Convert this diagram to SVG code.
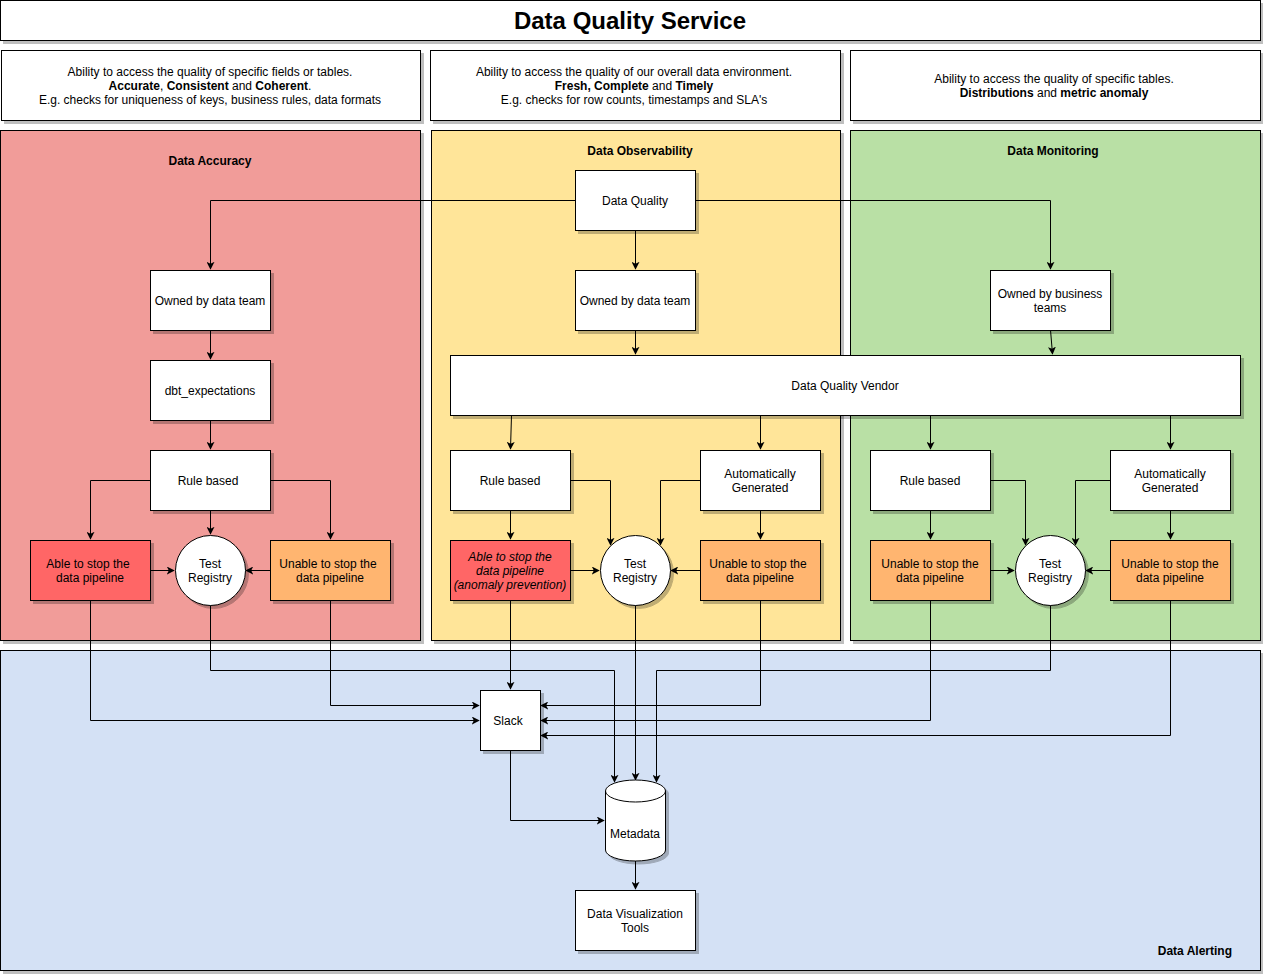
<svg xmlns="http://www.w3.org/2000/svg" width="1263" height="974" viewBox="0 0 1263 974">
<defs>
<filter id="sh" x="-5%" y="-5%" width="115%" height="115%">
<feDropShadow dx="3" dy="3" stdDeviation="0" flood-color="#000" flood-opacity="0.25"/>
</filter>
<marker id="ah" viewBox="0 0 10 10" refX="9" refY="5" markerWidth="8" markerHeight="8" markerUnits="userSpaceOnUse" orient="auto">
<path d="M0,0 L10,5 L0,10 L2.5,5 z" fill="#000"/>
</marker>
<style>
text{font-family:"Liberation Sans",Arial,Helvetica,sans-serif;font-size:12px;fill:#000;text-anchor:middle}
.b{font-weight:bold}
.box{stroke:#000;stroke-width:1;filter:url(#sh)}
.w{fill:#fff}
.red{fill:#FF6666}
.org{fill:#FFB570}
.c path,.c line,.c polyline{fill:none;stroke:#000;stroke-width:1;marker-end:url(#ah)}
</style>
</defs>
<rect width="1263" height="974" fill="#fff"/>

<g id="title">
<rect class="box w" x="0.5" y="0.5" width="1260" height="40"/>
<text class="b" x="630" y="29" style="font-size:24px">Data Quality Service</text>
</g>

<g id="desc-accuracy">
<rect class="box w" x="1.5" y="50.5" width="419" height="70"/>
<text x="210" y="76">Ability to access the quality of specific fields or tables.</text>
<text x="210" y="90"><tspan class="b">Accurate</tspan>, <tspan class="b">Consistent</tspan> and <tspan class="b">Coherent</tspan>.</text>
<text x="210" y="104">E.g. checks for uniqueness of keys, business rules, data formats</text>
</g>
<g id="desc-observability">
<rect class="box w" x="430.5" y="50.5" width="410" height="70"/>
<text x="634" y="76">Ability to access the quality of our overall data environment.</text>
<text x="634" y="90"><tspan class="b">Fresh, Complete</tspan> and <tspan class="b">Timely</tspan></text>
<text x="634" y="104">E.g. checks for row counts, timestamps and SLA's</text>
</g>
<g id="desc-monitoring">
<rect class="box w" x="850.5" y="50.5" width="410" height="70"/>
<text x="1054" y="83">Ability to access the quality of specific tables.</text>
<text x="1054" y="97"><tspan class="b">Distributions</tspan> and <tspan class="b">metric anomaly</tspan></text>
</g>

<g id="lane-accuracy">
<rect class="box" x="0.5" y="130.5" width="420" height="510" fill="#F19C99"/>
<text class="b" x="210" y="165">Data Accuracy</text>
</g>
<g id="lane-observability">
<rect class="box" x="431.5" y="130.5" width="409" height="510" fill="#FFE599"/>
<text class="b" x="640" y="155">Data Observability</text>
</g>
<g id="lane-monitoring">
<rect class="box" x="850.5" y="130.5" width="410" height="510" fill="#B9E0A5"/>
<text class="b" x="1053" y="155">Data Monitoring</text>
</g>
<g id="lane-alerting">
<rect class="box" x="0.5" y="650.5" width="1260" height="320" fill="#D4E1F5"/>
<text class="b" x="1232" y="955" style="text-anchor:end">Data Alerting</text>
</g>

<g id="connectors" class="c">
<polyline points="575,200.5 210.5,200.5 210.5,269"/>
<polyline points="695,200.5 1050.5,200.5 1050.5,269"/>
<line x1="635.5" y1="230" x2="635.5" y2="269"/>
<line x1="210.5" y1="330" x2="210.5" y2="359"/>
<line x1="210.5" y1="420" x2="210.5" y2="449"/>
<polyline points="150,480.5 90.5,480.5 90.5,539"/>
<polyline points="270,480.5 330.5,480.5 330.5,539"/>
<line x1="210.5" y1="510" x2="210.5" y2="534"/>
<line x1="150" y1="570.5" x2="174" y2="570.5"/>
<line x1="270" y1="570.5" x2="246" y2="570.5"/>
<line x1="635.5" y1="330" x2="635.5" y2="354"/>
<line x1="1050.5" y1="330" x2="1052.5" y2="354"/>
<line x1="511.5" y1="415" x2="510.5" y2="449"/>
<line x1="760.5" y1="415" x2="760.5" y2="449"/>
<line x1="930.5" y1="415" x2="930.5" y2="449"/>
<line x1="1170.5" y1="415" x2="1170.5" y2="449"/>
<polyline points="570,480.5 610.5,480.5 610.5,545"/>
<polyline points="700,480.5 660.5,480.5 660.5,545"/>
<line x1="510.5" y1="510" x2="510.5" y2="539"/>
<line x1="760.5" y1="510" x2="760.5" y2="539"/>
<line x1="570" y1="570.5" x2="599" y2="570.5"/>
<line x1="700" y1="570.5" x2="671" y2="570.5"/>
<polyline points="990,480.5 1025.5,480.5 1025.5,545"/>
<polyline points="1110,480.5 1075.5,480.5 1075.5,545"/>
<line x1="930.5" y1="510" x2="930.5" y2="539"/>
<line x1="1170.5" y1="510" x2="1170.5" y2="539"/>
<line x1="990" y1="570.5" x2="1014" y2="570.5"/>
<line x1="1110" y1="570.5" x2="1086" y2="570.5"/>
<polyline points="90.5,600 90.5,720.5 479,720.5"/>
<polyline points="330.5,600 330.5,705.5 479,705.5"/>
<polyline points="210.5,605 210.5,670.5 614.5,670.5 614.5,782"/>
<line x1="510.5" y1="600" x2="510.5" y2="689"/>
<line x1="635.5" y1="605" x2="635.5" y2="780"/>
<polyline points="760.5,600 760.5,705.5 541,705.5"/>
<polyline points="1050.5,605 1050.5,670.5 656.5,670.5 656.5,782"/>
<polyline points="930.5,600 930.5,720.5 541,720.5"/>
<polyline points="1170.5,600 1170.5,735.5 541,735.5"/>
<polyline points="510.5,750 510.5,820.5 604,820.5"/>
<line x1="635.5" y1="860" x2="635.5" y2="889"/>
</g>

<g id="n-data-quality"><rect class="box w" x="575.5" y="170.5" width="120" height="60"/><text x="635" y="205">Data Quality</text></g>
<g id="n-owned-left"><rect class="box w" x="150.5" y="270.5" width="120" height="60"/><text x="210" y="305">Owned by data team</text></g>
<g id="n-dbt"><rect class="box w" x="150.5" y="360.5" width="120" height="60"/><text x="210" y="395">dbt_expectations</text></g>
<g id="n-rule-left"><rect class="box w" x="150.5" y="450.5" width="120" height="60"/><text x="208" y="485">Rule based</text></g>
<g id="n-able-left"><rect class="box red" x="30.5" y="540.5" width="120" height="60"/><text x="88" y="568">Able to stop the</text><text x="90" y="582">data pipeline</text></g>
<g id="n-tr-left"><circle class="box w" cx="210.5" cy="570.5" r="35"/><text x="210" y="568">Test</text><text x="210" y="582">Registry</text></g>
<g id="n-unable-left"><rect class="box org" x="270.5" y="540.5" width="120" height="60"/><text x="328" y="568">Unable to stop the</text><text x="330" y="582">data pipeline</text></g>

<g id="n-owned-mid"><rect class="box w" x="575.5" y="270.5" width="120" height="60"/><text x="635" y="305">Owned by data team</text></g>
<g id="n-owned-biz"><rect class="box w" x="990.5" y="270.5" width="120" height="60"/><text x="1050" y="298">Owned by business</text><text x="1050" y="312">teams</text></g>
<g id="n-vendor"><rect class="box w" x="450.5" y="355.5" width="790" height="60"/><text x="845" y="390">Data Quality Vendor</text></g>

<g id="n-rule-mid"><rect class="box w" x="450.5" y="450.5" width="120" height="60"/><text x="510" y="485">Rule based</text></g>
<g id="n-auto-mid"><rect class="box w" x="700.5" y="450.5" width="120" height="60"/><text x="760" y="478">Automatically</text><text x="760" y="492">Generated</text></g>
<g id="n-able-mid"><rect class="box red" x="450.5" y="540.5" width="120" height="60"/><text x="510" y="561" font-style="italic">Able to stop the</text><text x="510" y="575" font-style="italic">data pipeline</text><text x="510" y="589" font-style="italic">(anomaly prevention)</text></g>
<g id="n-tr-mid"><circle class="box w" cx="635.5" cy="570.5" r="35"/><text x="635" y="568">Test</text><text x="635" y="582">Registry</text></g>
<g id="n-unable-mid"><rect class="box org" x="700.5" y="540.5" width="120" height="60"/><text x="758" y="568">Unable to stop the</text><text x="760" y="582">data pipeline</text></g>

<g id="n-rule-right"><rect class="box w" x="870.5" y="450.5" width="120" height="60"/><text x="930" y="485">Rule based</text></g>
<g id="n-auto-right"><rect class="box w" x="1110.5" y="450.5" width="120" height="60"/><text x="1170" y="478">Automatically</text><text x="1170" y="492">Generated</text></g>
<g id="n-unable-right1"><rect class="box org" x="870.5" y="540.5" width="120" height="60"/><text x="930" y="568">Unable to stop the</text><text x="930" y="582">data pipeline</text></g>
<g id="n-tr-right"><circle class="box w" cx="1050.5" cy="570.5" r="35"/><text x="1050" y="568">Test</text><text x="1050" y="582">Registry</text></g>
<g id="n-unable-right2"><rect class="box org" x="1110.5" y="540.5" width="120" height="60"/><text x="1170" y="568">Unable to stop the</text><text x="1170" y="582">data pipeline</text></g>

<g id="n-slack"><rect class="box w" x="480.5" y="690.5" width="60" height="60"/><text x="508" y="725">Slack</text></g>
<g id="n-metadata">
<path class="box w" d="M605.5,791 a30,11 0 0 1 60,0 v59 a30,11 0 0 1 -60,0 z"/>
<path d="M605.5,791 a30,11 0 0 0 60,0" fill="none" stroke="#000"/>
<text x="635" y="838">Metadata</text>
</g>
<g id="n-dataviz"><rect class="box w" x="575.5" y="890.5" width="120" height="60"/><text x="635" y="918">Data Visualization</text><text x="635" y="932">Tools</text></g>
</svg>
